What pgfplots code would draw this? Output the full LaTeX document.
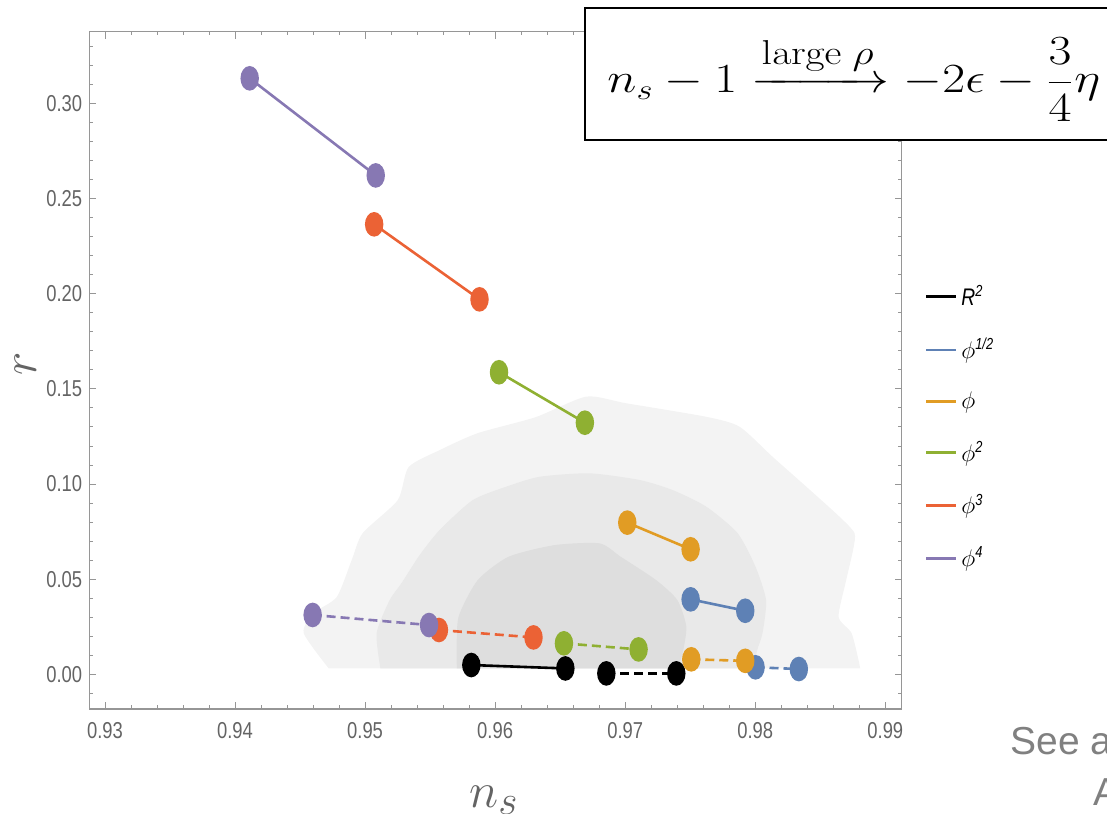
\documentclass[border=0pt]{standalone}
\usepackage[no-math]{fontspec}
\setmainfont{Liberation Sans}
\newfontfamily\tickfont{Liberation Sans}[FakeStretch=0.8]
\usepackage{amsmath}
\usepackage{graphicx}
\usepackage{pgfplots}
\pgfplotsset{compat=1.18}
\definecolor{cblue}{RGB}{94,129,181}
\definecolor{corange}{RGB}{225,156,36}
\definecolor{cgreen}{RGB}{143,176,50}
\definecolor{cred}{RGB}{235,98,53}
\definecolor{cpurple}{RGB}{135,120,179}
\definecolor{axgray}{RGB}{150,150,150}
\definecolor{tkgray}{RGB}{100,100,100}
\definecolor{cont1}{RGB}{243,243,243}
\definecolor{cont2}{RGB}{233,233,233}
\definecolor{cont3}{RGB}{222,222,222}
\begin{document}
\begin{tikzpicture}
\begin{axis}[
  at={(44.6pt,52pt)}, anchor=south west,
  scale only axis, width=406.25pt, height=338.65pt,
  xmin=0.92879, xmax=0.99126, ymin=-0.0182, ymax=0.3376,
  xtick={0.93,0.94,0.95,0.96,0.97,0.98,0.99},
  ytick={0,0.05,0.1,0.15,0.2,0.25,0.3},
  minor xtick={0.932,0.934,0.936,0.938,0.942,0.944,0.946,0.948,0.952,0.954,0.956,0.958,0.962,0.964,0.966,0.968,0.972,0.974,0.976,0.978,0.982,0.984,0.986,0.988},
  minor ytick={-0.01,0.01,0.02,0.03,0.04,0.06,0.07,0.08,0.09,0.11,0.12,0.13,0.14,0.16,0.17,0.18,0.19,0.21,0.22,0.23,0.24,0.26,0.27,0.28,0.29,0.31,0.32,0.33},
  tick align=inside, major tick length=3.5pt, minor tick length=1.8pt,
  axis line style={draw=axgray, line width=0.6pt},
  every tick/.style={draw=axgray, line width=0.4pt},
  /pgf/number format/assume math mode=true,
  tick label style={font=\tickfont\fontsize{11.5}{12}\selectfont, text=tkgray},
  xticklabel style={/pgf/number format/fixed, /pgf/number format/precision=2, yshift=-3pt},
  yticklabel style={/pgf/number format/fixed, /pgf/number format/fixed zerofill, /pgf/number format/precision=2},
  scaled ticks=false,
  xlabel={$n_s$}, ylabel={$r$},
  xlabel style={at={(axis description cs:0.498,-0.135)}, anchor=center, font=\fontsize{28}{30}\selectfont, text=tkgray},
  ylabel style={at={(axis description cs:-0.078,0.51)}, anchor=center, font=\fontsize{24}{26}\selectfont, text=tkgray},
  legend style={at={(1.028,0.632)}, anchor=north west, draw=none, fill=none,
    font=\tickfont\itshape\fontsize{12}{13}\selectfont, row sep=11pt, inner sep=0pt,
    cells={anchor=west}},
  legend image code/.code={\draw[#1, line width=1.3pt] (0pt,0pt) -- (15pt,0pt);},
]
% contours
\addplot[fill=cont1, draw=none, forget plot, smooth, tension=0.4] coordinates {
(0.94720,0.0032) (0.94528,0.0217) (0.94605,0.0322) (0.94782,0.0406) (0.94897,0.0600) (0.94982,0.0742) (0.95251,0.0915) (0.95335,0.1089) (0.95574,0.1178) (0.95866,0.1267) (0.96311,0.1351) (0.96701,0.1459) (0.97008,0.1424) (0.97623,0.1353) (0.97879,0.1301) (0.98133,0.1143) (0.98392,0.0986) (0.98648,0.0828) (0.98763,0.0742) (0.98752,0.0653) (0.98694,0.0480) (0.98641,0.0301) (0.98740,0.0217) (0.98794,0.0075) (0.98806,0.0032)} -- cycle;
\addplot[fill=cont2, draw=none, forget plot, smooth, tension=0.4] coordinates {
(0.95118,0.0032) (0.95089,0.0217) (0.95189,0.0390) (0.95281,0.0480) (0.95420,0.0627) (0.95573,0.0758) (0.95827,0.0915) (0.96086,0.0986) (0.96342,0.1038) (0.96726,0.1056) (0.97111,0.1021) (0.97365,0.0968) (0.97623,0.0881) (0.97864,0.0742) (0.98002,0.0565) (0.98083,0.0390) (0.98056,0.0217) (0.98015,0.0128) (0.97987,0.0032)} -- cycle;
\addplot[fill=cont3, draw=none, forget plot, smooth, tension=0.4] coordinates {
(0.95706,0.0032) (0.95704,0.0112) (0.95719,0.0303) (0.95866,0.0495) (0.96104,0.0618) (0.96458,0.0679) (0.96804,0.0688) (0.96965,0.0618) (0.97238,0.0495) (0.97401,0.0390) (0.97470,0.0250) (0.97441,0.0110) (0.97401,0.0032)} -- cycle;
% legend
\addlegendimage{color=black}\addlegendentry{R\textsuperscript{2}}
\addlegendimage{color=cblue}\addlegendentry{$\phi$\textsuperscript{1/2}}
\addlegendimage{color=corange}\addlegendentry{$\phi$}
\addlegendimage{color=cgreen}\addlegendentry{$\phi$\textsuperscript{2}}
\addlegendimage{color=cred}\addlegendentry{$\phi$\textsuperscript{3}}
\addlegendimage{color=cpurple}\addlegendentry{$\phi$\textsuperscript{4}}
\pgfplotsset{
  seg/.style={color=#1, line width=1.3pt, mark=*, mark size=5.5pt, mark options={xscale=0.72, solid, fill=#1, draw=#1}, forget plot},
  dseg/.style={seg=#1, dash pattern=on 4.5pt off 2.5pt},
}
% R^2
\addplot[seg=black] coordinates {(0.95817,0.0049) (0.96540,0.0031)};
\addplot[dseg=black] coordinates {(0.96855,0.0005) (0.97393,0.0005)};
% phi^1/2
\addplot[seg=cblue] coordinates {(0.97503,0.0394) (0.97923,0.0334)};
\addplot[dseg=cblue] coordinates {(0.98002,0.0037) (0.98335,0.0028)};
% phi
\addplot[seg=corange] coordinates {(0.97016,0.0797) (0.97503,0.0657)};
\addplot[dseg=corange] coordinates {(0.97508,0.0079) (0.97923,0.0071)};
% phi^2
\addplot[seg=cgreen] coordinates {(0.96030,0.1587) (0.96690,0.1322)};
\addplot[dseg=cgreen] coordinates {(0.96529,0.0163) (0.97103,0.0131)};
% phi^3
\addplot[seg=cred] coordinates {(0.95070,0.2364) (0.95880,0.1970)};
\addplot[dseg=cred] coordinates {(0.95568,0.0233) (0.96295,0.0194)};
% phi^4
\addplot[seg=cpurple] coordinates {(0.94113,0.3131) (0.95082,0.2621)};
\addplot[dseg=cpurple] coordinates {(0.94597,0.0312) (0.95492,0.0259)};
\end{axis}
% formula box
\fill[white] (292.5pt,336.5pt) rectangle (600pt,402.5pt);
\draw[black, line width=1.1pt] (292.5pt,336.5pt) rectangle (600pt,402.5pt);
\node[anchor=base west, inner sep=0pt] at (303.5pt,360pt) {\scalebox{1.2}[1]{\fontsize{21}{24}\selectfont$\displaystyle n_s - 1 \xrightarrow{\raisebox{2.5pt}{\fontsize{16.5}{18}\selectfont$\mathrm{large}\ \rho$}} -2\epsilon - \frac{3}{4}\eta$}};
\node[anchor=base west, inner sep=0pt, text=gray, font=\fontsize{19.5}{22}\selectfont] at (505pt,29pt) {See a};
\node[anchor=base west, inner sep=0pt, text=gray, font=\fontsize{19.5}{22}\selectfont] at (546.5pt,4pt) {A};
\pgfresetboundingbox
\path[use as bounding box] (0,0) rectangle (553.5pt,406.5pt);
\end{tikzpicture}
\end{document}
